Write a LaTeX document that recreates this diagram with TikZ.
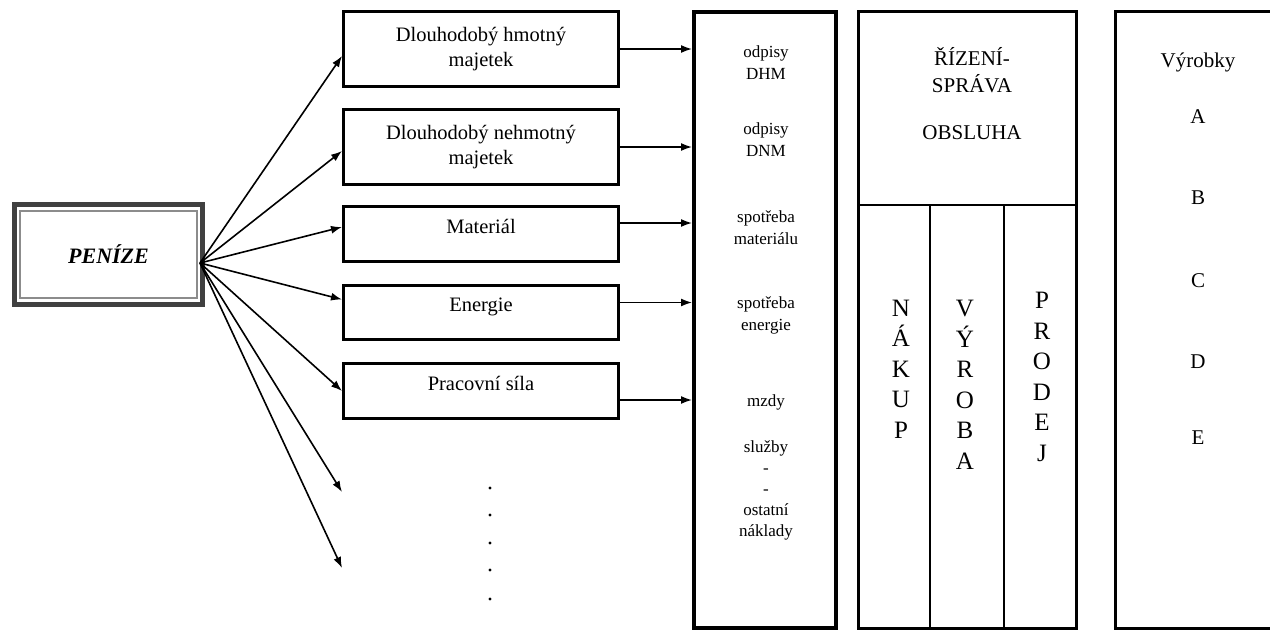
\documentclass[tikz,border=0pt]{standalone}
\usepackage{fontspec}
\setmainfont{Liberation Serif}
\usetikzlibrary{arrows.meta,positioning}

\tikzset{
  item/.style={draw, line width=3pt, minimum width=275pt, align=center,
    font=\fontsize{20.5}{25}\selectfont},
  lifted/.style={text height=14pt, text depth=16pt},
  flow/.style={line width=1.6pt, -{Latex[length=11pt,width=8pt]}},
  cost/.style={align=center, font=\fontsize{17}{22}\selectfont},
  caps/.style={align=center, font=\fontsize{21}{27}\selectfont},
  letters/.style={align=center, font=\fontsize{25}{30.5}\selectfont},
  panel/.style={draw, line width=3pt, minimum height=617pt},
}

\begin{document}
\begin{tikzpicture}[x=1pt,y=-1pt]
  \useasboundingbox (0,0) rectangle (1270,632);

  % Money box with its double border
  \node[draw=black!75, line width=5pt, minimum width=188pt, minimum height=100pt,
        font=\fontsize{22}{26}\selectfont\bfseries\itshape] (penize) at (108.5,254.5) {PENÍZE};
  \draw[black!45, line width=1.2pt] ([shift={(8pt,-9pt)}]penize.north west)
    rectangle ([shift={(-8pt,9pt)}]penize.south east);

  % Resources
  \node[item, minimum height=75pt] (dhm) at (481,49) {Dlouhodobý hmotný\\majetek};
  \node[item, minimum height=75pt] (dnm) at (481,147) {Dlouhodobý nehmotný\\majetek};
  \node[item, lifted, minimum height=55pt] (mat) at (481,234) {Materiál};
  \node[item, lifted, minimum height=54pt] (ene) at (481,312.5) {Energie};
  \node[item, lifted, minimum height=55pt] (prac) at (481,391) {Pracovní síla};

  % Dots for the other resources
  \foreach \y in {488,515,543,570,599}
    \fill (490,\y) circle (1.6pt);

  % Cost column
  \node[draw, line width=4pt, minimum width=142pt, minimum height=616pt] (naklady) at (765,320) {};
  \node[cost] (odpdhm) at (766,63) {odpisy\\DHM};
  \node[cost] (odpdnm) at (766,140) {odpisy\\DNM};
  \node[cost] (spmat) at (766,228) {spotřeba\\materiálu};
  \node[cost] (spene) at (766,315) {spotřeba\\energie};
  \node[cost] (mzdy) at (766,402) {mzdy};
  \node[cost, font=\fontsize{17}{21}\selectfont] (ostatni) at (766,490) {služby\\-\\-\\ostatní\\náklady};

  % Management block
  \node[panel, minimum width=218pt] (blok) at (967.5,320) {};
  \coordinate (split) at (0,205);
  \coordinate (cut1) at (930,205);
  \coordinate (cut2) at (1004,205);
  \draw[line width=2pt] (blok.west |- split) -- (blok.east |- split);
  \draw[line width=2pt] (cut1) -- (cut1 |- blok.south);
  \draw[line width=2pt] (cut2) -- (cut2 |- blok.south);
  \node[caps] (rizeni) at (972,70) {ŘÍZENÍ-\\SPRÁVA};
  \node[caps] (obsluha) at (972,133) {OBSLUHA};
  \node[letters] (nakup) at (901,369) {N\\Á\\K\\U\\P};
  \node[letters] (vyroba) at (965,385) {V\\Ý\\R\\O\\B\\A};
  \node[letters] (prodej) at (1042,377) {P\\R\\O\\D\\E\\J};

  % Products
  \node[panel, minimum width=170pt] (vyrobky) at (1200.5,320) {};
  \node[caps] (vyr) at (1198,62) {Výrobky};
  \foreach \p/\y in {A/117,B/198,C/281,D/362,E/438}
    \node[caps] (prod\p) at (1198,\y) {\p};

  % Arrows from money to resources
  \coordinate (src) at (200,263);
  \foreach \n/\s in {dhm/-7,dnm/-4,mat/7,ene/13,prac/0}
    \draw[flow] (src) -- ([yshift=\s pt]\n.west);
  \coordinate (more1) at (342,492);
  \coordinate (more2) at (342,568);
  \draw[flow] (src) -- (more1);
  \draw[flow] (src) -- (more2);

  % Arrows from resources to costs
  \foreach \n/\s in {dhm/0,dnm/0,mat/11,ene/10,prac/-9} {
    \coordinate (out\n) at ([yshift=\s pt]\n.east);
    \draw[flow] (out\n) -- (out\n -| naklady.west);
  }
\end{tikzpicture}
\end{document}
